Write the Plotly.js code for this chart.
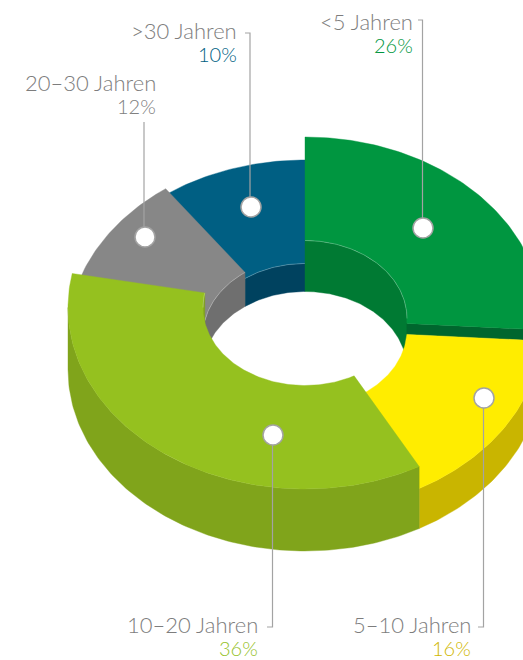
<!DOCTYPE html>
<html>
<head>
<meta charset="utf-8">
<script src="https://cdn.plot.ly/plotly-3.0.1.min.js"></script>
<style>
  html, body { margin: 0; padding: 0; background: #fff; }
  #chart { width: 523px; height: 660px; }
</style>
</head>
<body>
<div id="chart"></div>
<script>
// Share of respondents by duration, clockwise from twelve o'clock
const categories = ['<5 Jahren', '5–10 Jahren', '10–20 Jahren', '20–30 Jahren', '>30 Jahren'];
const shares = [26, 16, 36, 12, 10];

// Ring segment colours
const topColors = ['#009640', '#ffed00', '#95c11f', '#878787', '#005f83'];
const outerWallColors = ['#007a33', '#c9b500', '#80a41b', '#6f6f6f', '#00425f'];
const innerWallColors = ['#007a33', '#c9b500', '#80a41b', '#6f6f6f', '#00425f'];
const endCapColors = ['#00662e', '#c9b500', '#80a41b', '#6f6f6f', '#00425f'];
const labelColors = ['#009640', '#cfb700', '#95c11f', '#808080', '#005f83'];

// Extrusion of each segment above the base plane
const extrusion = [51, 40, 62, 34, 28];

// Ring projection on the pixel-scaled axes
const ring = { cx: 305, cy: 369.5, rxOuter: 237, ryOuter: 181.5, rxInner: 102, ryInner: 78 };

// Callouts: dot position, leader elbow and label anchor per category
const dotX = [423, 484, 273, 145, 251];
const dotY = [228, 398, 435, 237, 207];
const leaderX = [422.5, 483.5, 272.5, 144, 250];
const leaderEndY = [20, 627, 627, 122, 33];
const leaderTickX = [418, 478, 267, 144, 245];
const labelRight = [415, 473, 260, 158, 239];
const nameY = [21, 624, 624, 82, 30];
const shareY = [45, 648, 648, 106, 54];

const rad = d => d * Math.PI / 180;
const pointAt = (rx, ry, deg, h) => [
  ring.cx + rx * Math.sin(rad(deg)),
  ring.cy - ry * Math.cos(rad(deg)) - h
];
function arc(rx, ry, from, to, h) {
  const n = Math.max(2, Math.ceil(Math.abs(to - from)));
  const pts = [];
  for (let i = 0; i <= n; i++) pts.push(pointAt(rx, ry, from + (to - from) * i / n, h));
  return pts;
}
function area(points, color) {
  const closed = points.concat([points[0]]);
  return {
    type: 'scatter', mode: 'lines', fill: 'toself', fillcolor: color,
    x: closed.map(p => p[0]), y: closed.map(p => p[1]),
    line: { width: 0.4, color: color }, hoverinfo: 'skip', showlegend: false
  };
}
function edge(points) {
  return {
    type: 'scatter', mode: 'lines',
    x: points.map(p => p[0]), y: points.map(p => p[1]),
    line: { width: 0.7, color: 'rgba(255,255,255,0.35)' }, hoverinfo: 'skip', showlegend: false
  };
}
function clipRange(a, b, lo, hi) {
  const from = Math.max(a, lo), to = Math.min(b, hi);
  return from < to ? [from, to] : null;
}

// Cumulative segment angles
const spans = [];
let running = 0;
shares.forEach(s => { spans.push([running, running + s * 3.6]); running += s * 3.6; });

const traces = [];
function drawSegment(i) {
  const [a0, a1] = spans[i];
  const h = extrusion[i];
  const rims = [];
  // Hole wall: only the half of the ring behind the hole faces the viewer
  [[-90, 90], [270, 450]].forEach(([lo, hi]) => {
    const vis = clipRange(a0, a1, lo, hi);
    if (!vis) return;
    const rim = arc(ring.rxInner, ring.ryInner, vis[0], vis[1], h);
    traces.push(area(rim.concat(arc(ring.rxInner, ring.ryInner, vis[1], vis[0], 0)), innerWallColors[i]));
    rims.push(rim);
  });
  // Outer wall: front half of the ring
  const front = clipRange(a0, a1, 90, 270);
  if (front) {
    const wall = arc(ring.rxOuter, ring.ryOuter, front[0], front[1], h)
      .concat(arc(ring.rxOuter, ring.ryOuter, front[1], front[0], 0));
    traces.push(area(wall, outerWallColors[i]));
  }
  // Radial end face, where it rises above the next segment and looks forward
  const next = extrusion[(i + 1) % extrusion.length];
  if (next < h && Math.sin(rad(a1)) > 0.01) {
    traces.push(area([
      pointAt(ring.rxInner, ring.ryInner, a1, h),
      pointAt(ring.rxOuter, ring.ryOuter, a1, h),
      pointAt(ring.rxOuter, ring.ryOuter, a1, next),
      pointAt(ring.rxInner, ring.ryInner, a1, next)
    ], endCapColors[i]));
  }
  // Top face
  traces.push(area(
    arc(ring.rxOuter, ring.ryOuter, a0, a1, h)
      .concat(arc(ring.rxInner, ring.ryInner, a1, a0, h)),
    topColors[i]
  ));
  // Fine highlight where the top face meets the hole wall
  rims.forEach(rim => traces.push(edge(rim)));
}

// Painter's order, back of the ring first
[4, 3, 0, 1, 2].forEach(drawSegment);

// Leaders and dots
categories.forEach((_, i) => {
  traces.push({
    type: 'scatter', mode: 'lines',
    x: [leaderX[i], leaderX[i], leaderTickX[i]],
    y: [dotY[i], leaderEndY[i], leaderEndY[i]],
    line: { color: '#a3a3a3', width: 1.2 }, hoverinfo: 'skip', showlegend: false
  });
});
traces.push({
  type: 'scatter', mode: 'markers', x: dotX, y: dotY,
  marker: { size: 20, color: '#ffffff', line: { color: '#a3a3a3', width: 1.5 } },
  hoverinfo: 'skip', showlegend: false
});

// Labels
const annotations = [];
const labelFont = { family: 'Lato, "Open Sans", sans-serif', size: 22, weight: 300 };
categories.forEach((name, i) => {
  annotations.push({
    x: labelRight[i], y: nameY[i], xref: 'x', yref: 'y', text: name.replace('<', '&lt;'),
    xanchor: 'right', yanchor: 'middle', showarrow: false,
    font: Object.assign({}, labelFont, { color: '#7d7d7d' })
  });
  annotations.push({
    x: labelRight[i], y: shareY[i], xref: 'x', yref: 'y', text: shares[i] + '%',
    xanchor: 'right', yanchor: 'middle', showarrow: false,
    font: Object.assign({}, labelFont, { size: 20, color: labelColors[i] })
  });
});

const hidden = { visible: false, fixedrange: true };
Plotly.newPlot('chart', traces, {
  width: 523, height: 660,
  margin: { l: 0, r: 0, t: 0, b: 0 },
  paper_bgcolor: '#ffffff', plot_bgcolor: '#ffffff',
  xaxis: Object.assign({ range: [0, 523] }, hidden),
  yaxis: Object.assign({ range: [660, 0] }, hidden),
  annotations: annotations,
  showlegend: false
}, { displayModeBar: false, staticPlot: true });
</script>
</body>
</html>
